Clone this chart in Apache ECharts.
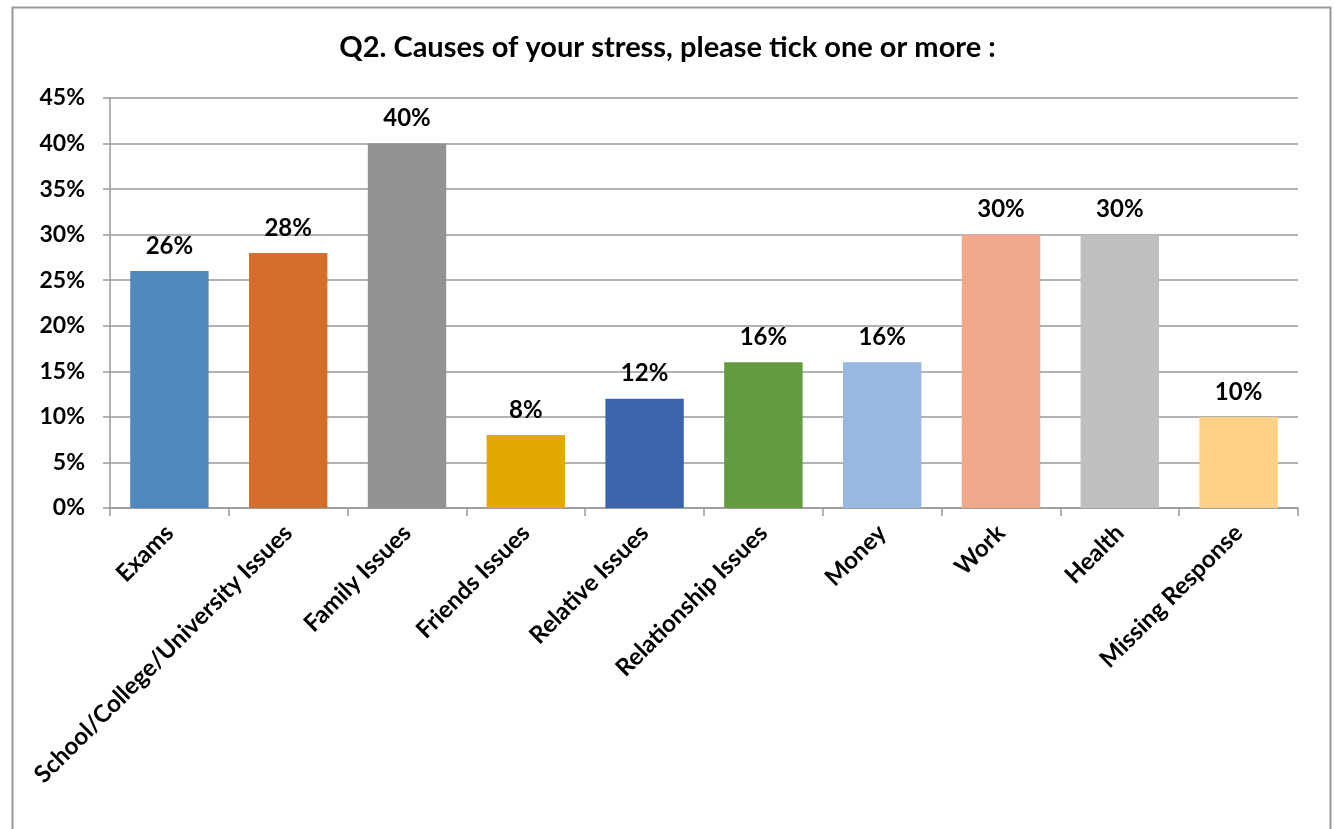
<!DOCTYPE html>
<html>
<head>
<meta charset="utf-8">
<script src="https://cdn.jsdelivr.net/npm/echarts@6/dist/echarts.min.js"></script>
<style>
html,body{margin:0;padding:0;background:#fff;}
#chart{width:1335px;height:829px;}
</style>
</head>
<body>
<div id="chart"></div>
<script>
const categories = ["Exams","School/College/University Issues","Family Issues","Friends Issues","Relative Issues","Relationship Issues","Money","Work","Health","Missing Response"];
const values = [26,28,40,8,12,16,16,30,30,10];
const colors = ["#4F89BD","#D36D2B","#939393","#E3A802","#3C64AD","#629A3F","#97B8DF","#F1A88A","#BFBFBF","#FFD186"];
const yTicks = [0,5,10,15,20,25,30,35,40,45];
const titleText = "Q2. Causes of your stress, please tick one or more :";

const FONT = "Lato";
const chart = echarts.init(document.getElementById('chart'), null, {renderer:'canvas'});
chart.setOption({
  backgroundColor:'#fff',
  animation:false,
  title:{
    text:titleText, left:'center', top:28,
    textStyle:{fontFamily:FONT, fontWeight:'bold', fontSize:29, color:'#000'}
  },
  graphic:[{
    type:'rect', left:10, top:5, silent:true,
    shape:{x:0,y:0,width:1318,height:840},
    style:{fill:'none', stroke:'#999', lineWidth:2}
  }],
  grid:{left:110, right:37, top:98, bottom:321, containLabel:false},
  xAxis:{
    type:'category', data:categories,
    axisLine:{show:true, lineStyle:{color:'#999', width:1.5}},
    axisTick:{show:true, length:8, alignWithLabel:false, lineStyle:{color:'#999', width:1.5}},
    axisLabel:{rotate:45, margin:21, interval:0, fontFamily:FONT, fontWeight:'bold', fontSize:24, color:'#000'}
  },
  yAxis:{
    type:'value', min:yTicks[0], max:yTicks[yTicks.length-1], interval:5,
    axisLine:{show:true, lineStyle:{color:'#999', width:1.5}},
    axisTick:{show:true, length:7, lineStyle:{color:'#999', width:1.5}},
    splitLine:{show:true, lineStyle:{color:'#999', width:1.5}},
    axisLabel:{formatter:'{value}%', margin:25, fontFamily:FONT, fontWeight:'bold', fontSize:23, color:'#000'}
  },
  series:[{
    type:'bar',
    data:values.map((v,i)=>({value:v, itemStyle:{color:colors[i]}})),
    barCategoryGap:'34%',
    label:{show:true, position:'top', distance:13, formatter:'{c}%', fontFamily:FONT, fontWeight:'bold', fontSize:24, color:'#000'}
  }]
});
</script>
</body>
</html>
